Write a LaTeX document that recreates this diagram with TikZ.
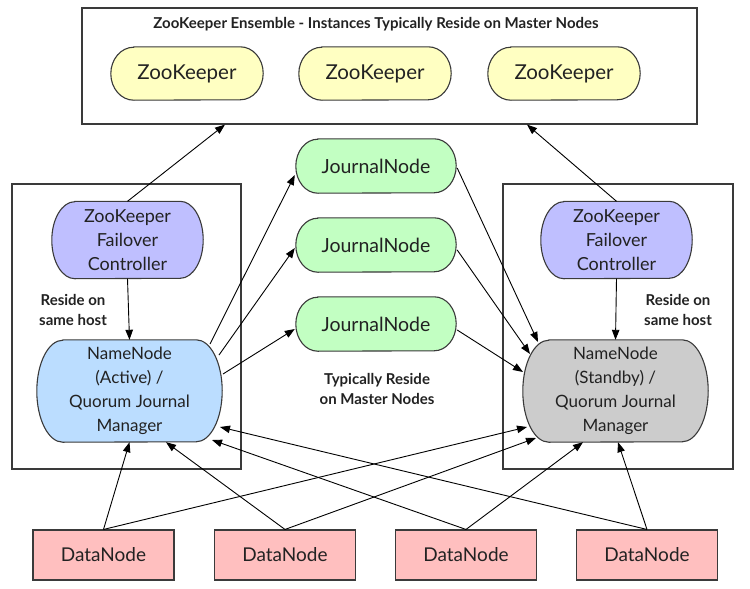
\documentclass[tikz,border=0pt]{standalone}
\usepackage{fontspec}
\setmainfont{Lato}
\usetikzlibrary{arrows.meta,backgrounds,calc}
\definecolor{zkfill}{HTML}{FFFFC2}
\definecolor{fcfill}{HTML}{BFBFFF}
\definecolor{nafill}{HTML}{BBDDFF}
\definecolor{nsfill}{HTML}{CCCCCC}
\definecolor{jnfill}{HTML}{C2FFC2}
\definecolor{dnfill}{HTML}{FFBFBF}
\definecolor{edgec}{HTML}{3A3A3A}
\definecolor{textc}{HTML}{222222}
\begin{document}
\begin{tikzpicture}[x=1pt,y=-1pt,
  txt/.style={font=\fontsize{18}{24}\selectfont, text=textc, align=center},
  pill/.style={txt, draw=none, inner sep=0pt},
  pillline/.style={draw=edgec, line width=1.1pt},
  lbl/.style={font=\bfseries\fontsize{15}{19.5}\selectfont, text=textc, align=center},
  arr/.style={draw=black, line width=0.9pt, -{Triangle[length=10pt,width=7.5pt]}},
  box/.style={draw=edgec, line width=1.2pt, inner sep=0pt},
  dnbox/.style={txt, font=\fontsize{19}{24}\selectfont, draw=edgec, line width=1.1pt, fill=dnfill, minimum width=141pt, minimum height=50pt, inner sep=0pt}]
\useasboundingbox (0,0) rectangle (750,589);

% containers
\node[box, minimum width=615pt, minimum height=116pt] (ens) at (389.5,66) {};
\node[box, minimum width=229pt, minimum height=285pt] (hostA) at (126.5,326.5) {};
\node[box, minimum width=230pt, minimum height=285pt] (hostS) at (618,326.5) {};

\node[lbl] (title) at (376,24) {ZooKeeper Ensemble - Instances Typically Reside on Master Nodes};

% zookeepers
\tikzset{zkpill/.style={pill, font=\fontsize{20.5}{24}\selectfont, minimum width=152pt, minimum height=53pt}}
\node[zkpill] (zk1) at (187,73.5) {ZooKeeper};
\node[zkpill] (zk2) at (375,73.5) {ZooKeeper};
\node[zkpill] (zk3) at (564,73.5) {ZooKeeper};

% journal nodes
\tikzset{jnpill/.style={pill, font=\fontsize{19.5}{24}\selectfont, minimum width=160pt, minimum height=54pt}}
\node[jnpill] (jn1) at (376,166) {JournalNode};
\node[jnpill] (jn2) at (376,245) {JournalNode};
\node[jnpill] (jn3) at (376,324) {JournalNode};
\node[lbl] (jnlbl) at (377,389) {Typically Reside\\on Master Nodes};

% failover controllers
\node[pill, minimum width=151pt, minimum height=77pt] (fcA) at (127.5,240) {ZooKeeper\\Failover\\Controller};
\node[pill, minimum width=151pt, minimum height=77pt] (fcS) at (616.5,240) {ZooKeeper\\Failover\\Controller};

% namenodes
\tikzset{nnpill/.style={pill, font=\fontsize{17}{24}\selectfont, minimum width=185pt, minimum height=102pt}}
\node[nnpill] (nna) at (129.5,391) {NameNode\\(Active) /\\Quorum Journal\\Manager};
\node[nnpill] (nns) at (615.5,391) {NameNode\\(Standby) /\\Quorum Journal\\Manager};

\node[lbl] (hostlblA) at (73,310) {Reside on\\same host};
\node[lbl] (hostlblS) at (678,310) {Reside on\\same host};

% datanodes
\node[dnbox] (dn1) at (103.5,555) {DataNode};
\node[dnbox] (dn2) at (285,555) {DataNode};
\node[dnbox] (dn3) at (466,555) {DataNode};
\node[dnbox] (dn4) at (647,555) {DataNode};

% pill outlines
\begin{scope}[on background layer]
\fill[white] (0,0) rectangle (750,589);
\foreach \nd/\cl/\rx/\ry in {zk1/zkfill/23/26.5, zk2/zkfill/23/26.5, zk3/zkfill/23/26.5,
    jn1/jnfill/22/27, jn2/jnfill/22/27, jn3/jnfill/22/27,
    fcA/fcfill/23/38.5, fcS/fcfill/23/38.5, nna/nafill/26/51, nns/nsfill/26/51} {
  \draw[pillline, fill=\cl] ([xshift=\rx pt]\nd.north west) -- ([xshift=-\rx pt]\nd.north east)
    arc[start angle=90, end angle=-90, x radius=\rx pt, y radius=\ry pt]
    -- ([xshift=\rx pt]\nd.south west)
    arc[start angle=270, end angle=90, x radius=\rx pt, y radius=\ry pt] -- cycle;
}
\end{scope}

% connectors
\draw[arr] (fcA.north) -- ($(ens.south)+(-164.5,0)$);
\draw[arr] (fcS.north) -- ($(ens.south)+(137.5,0)$);
\draw[arr] (fcA.south) -- (nna.north);
\draw[arr] (fcS.south) -- (nns.north);

\draw[arr] ($(nna.center)+(80.5,-47)$) -- ($(jn1.west)+(-1,9)$);
\draw[arr] ($(nna.center)+(89.5,-36)$) -- ($(jn2.west)+(-1,3)$);
\draw[arr] ($(nna.center)+(93.5,-17)$) -- ($(jn3.west)+(-1,5)$);

\draw[arr] ($(jn1.east)+(1,2)$) -- ($(nns.center)+(-77.5,-49)$);
\draw[arr] ($(jn2.east)+(1,5)$) -- ($(nns.center)+(-85.5,-37)$);
\draw[arr] ($(jn3.east)+(1,6)$) -- ($(nns.center)+(-92.5,-19)$);

\draw[arr] (dn1.north) -- (nna.south);
\draw[arr] (dn2.north) -- ($(nna.south)+(36.5,0)$);
\draw[arr] (dn3.north) -- ($(nna.center)+(82.5,49)$);
\draw[arr] (dn4.north) -- ($(nna.center)+(90.5,36)$);

\draw[arr] (dn1.north) -- ($(nns.center)+(-88.5,36)$);
\draw[arr] (dn2.north) -- ($(nns.center)+(-79.5,47)$);
\draw[arr] (dn3.north) -- ($(nns.south)+(-32.5,0)$);
\draw[arr] (dn4.north) -- ($(nns.south)+(2.5,0)$);
\end{tikzpicture}
\end{document}
